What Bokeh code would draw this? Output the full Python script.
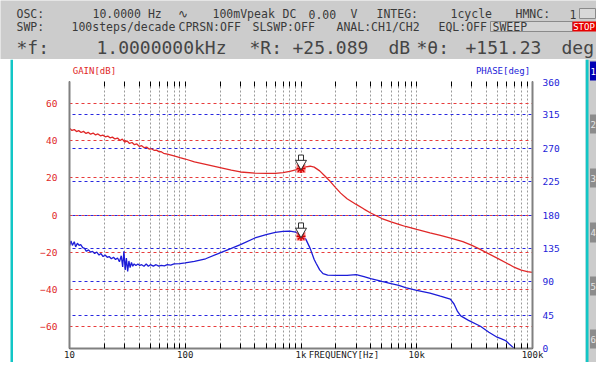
from bokeh.plotting import figure
from bokeh.models import Range1d, LinearAxis, LogAxis, FixedTicker, Grid
from bokeh.layouts import column, row
from bokeh.embed import file_html
from bokeh.resources import INLINE
from bokeh.core.properties import value

# ---------------- data ----------------
freq_gain = [10, 10.5, 11, 11.5, 12, 12.6, 13.2, 13.9, 14.5, 15.2, 16, 16.8, 17.6, 18.5, 19.4,
             20.4, 21.4, 22.4, 23.5, 24.7, 26, 27.3, 28.6, 30, 31.5, 33, 34.7, 36.4, 38.2, 40,
             42, 44.2, 46.4, 48.7, 51, 53.7, 56.4, 59.2, 62, 65, 70, 80, 90, 100, 120, 150,
             200, 250, 300, 400, 500, 600, 700, 800, 900, 1000, 1100, 1200, 1300, 1450, 1600,
             1800, 2000, 2200, 2500, 3000, 3500, 4000, 5000, 6000, 7000, 8000, 10000, 13000,
             16000, 20000, 25000, 30000, 35000, 40000, 50000, 60000, 70000, 80000, 90000, 100000]
gain_db = [46.8, 45.6, 46.1, 45.0, 45.5, 44.5, 45.1, 44.0, 44.6, 43.6, 44.2, 43.2, 43.7, 42.7, 43.1,
           42.2, 42.6, 41.6, 42.0, 41.0, 41.5, 40.2, 40.9, 39.3, 39.9, 38.6, 39.1, 37.9, 38.3, 37.0,
           37.4, 36.3, 36.6, 35.6, 35.7, 34.9, 35.0, 34.2, 34.1, 33.3, 32.8, 31.9, 31.0, 30.2, 28.6, 27.3,
           25.6, 24.2, 23.2, 22.6, 22.4, 22.5, 22.9, 23.5, 24.3, 25.1, 25.9, 26.3, 25.8, 23.8, 21.2,
           17.9, 14.6, 11.8, 8.8, 5.7, 3.2, 1.1, -1.9, -3.7, -5.0, -6.2, -7.8, -9.6,
           -11.0, -12.6, -14.4, -16.4, -18.4, -20.3, -23.4, -26.0, -28.3, -29.7, -30.5, -31.0]

freq_phase = [10, 10.3, 10.6, 11, 11.3, 11.7, 12.1, 12.5, 13, 13.5, 14, 14.6, 15.2, 15.8, 16.5,
              17.2, 18, 18.7, 19.5, 20.3, 21.2, 22, 23, 24, 25, 26, 27, 28, 28.8, 29.5, 30.3, 31,
              31.8, 32.6, 33.4, 34.3, 35.2, 36.2, 37.5, 39, 40.5, 42, 44, 46, 48, 50, 53, 56, 59,
              62, 66, 70, 75, 80, 90, 100, 120, 150, 200, 250, 300, 400, 500, 600, 700, 800, 900,
              1000, 1100, 1200, 1300, 1350, 1450, 1550, 1700, 2000, 2500, 3000, 3500, 4000, 5000,
              6000, 7000, 8000, 10000, 13000, 16000, 19500, 21000, 22500, 24000, 28000, 35500,
              42000, 49500, 54000, 58500, 63000, 69000]
phase_deg = [138, 145, 139, 144, 137, 142, 139, 140, 136, 135, 131, 133, 130, 131, 128,
             130, 126, 128, 124, 126, 123, 124, 121, 123, 120, 122, 117, 125, 110, 131, 106, 122,
             104, 118, 109, 116, 111, 114, 112, 114, 112, 113, 111, 114, 111, 113, 111, 113, 111,
             112, 111.5, 113, 112.5, 114, 114.5, 115.5, 117.5, 121, 129, 135, 140, 149, 153.5, 156.5, 157.8, 158.2, 157,
             151.2, 147.5, 135, 120, 115, 106, 101, 99, 98.5, 98.7, 99.5, 97, 94.3, 90.5,
             87.5, 85, 82, 78.5, 74.6, 70.5, 66.6, 60, 50, 44, 38, 30,
             22, 15.2, 13, 10.7, 6, 0.5]

marker_freq = [1000.0]
marker_gain = [25.089]
marker_phase = [151.23]

gain_ticks = [-60, -40, -20, 0, 20, 40, 60]
phase_ticks = [0, 45, 90, 135, 180, 225, 270, 315, 360]
phase_grid = [45, 90, 135, 180, 225, 270, 315]
freq_major = [10, 100, 1000, 10000, 100000]
freq_labels = ["10", "100", "1k", "10k", "100k"]
freq_minor = [m * 10 ** d for d in range(1, 5) for m in range(2, 10)]
x_title = "FREQUENCY[Hz]"
x_title_at = 2000          # the axis title sits under this decade line
gain_title = "GAIN[dB]"
phase_title = "PHASE[deg]"

header_row1 = ["OSC:", "10.0000 Hz", "\u223f", "100mVpeak", "DC", "0.00", "V", "INTEG:", "1cycle", "HMNC:", "1"]
header_row2 = ["SWP:", "100steps/decade", "CPRSN:OFF", "SLSWP:OFF", "ANAL:CH1/CH2", "EQL:OFF"]
header_row3 = ["*f:", "1.0000000kHz", "*R:", "+25.089", "dB", "*\u03b8:", "+151.23", "deg"]
side_buttons = ["1", "2", "3", "4", "5", "6"]

# ---------------- styling constants ----------------
MONO = "DejaVu Sans Mono"
CYAN = "#12c6c6"
GRAY = "#cccccc"
RED = "#e02828"
BLUE = "#1c1cd8"
TXT = "#3a3a3a"


def blank(w, h, xr, yr, bg):
    f = figure(width=w, height=h, x_range=xr, y_range=yr, output_backend="svg",
               toolbar_location=None, x_axis_location=None, y_axis_location=None,
               min_border=0, min_border_left=0, min_border_right=0, min_border_top=0,
               min_border_bottom=0)
    f.background_fill_color = bg
    f.border_fill_color = bg
    f.outline_line_color = None
    f.grid.visible = False
    return f


# ---------------- header ----------------
hdr = blank(596, 59, Range1d(0, 596), Range1d(59, 0), GRAY)
r1x = [16, 92, 177, 212, 282, 308, 350, 376, 450, 515, 569]
r2x = [16, 71, 178, 252, 336, 438]
r3x = [16, 96, 249, 292, 388, 416, 465, 561]
hdr.quad(left=[579], right=[595], top=[8], bottom=[18], fill_color="#d8d8d8", line_color="#8a8a8a")
hdr.quad(left=[490], right=[572], top=[21], bottom=[31], fill_color="#d4d4d4", line_color="#8a8a8a")
hdr.quad(left=[572], right=[596], top=[21], bottom=[31], fill_color="#e80000", line_color=None)
hdr.text(x=r1x, y=[13.5] * len(r1x), text=header_row1, text_font=value(MONO), text_font_size="11.5px",
         text_color=TXT, text_baseline="middle")
hdr.text(x=r2x, y=[26.5] * len(r2x), text=header_row2, text_font=value(MONO), text_font_size="11.5px",
         text_color=TXT, text_baseline="middle")
hdr.text(x=r3x, y=[46.5] * len(r3x), text=header_row3, text_font=value(MONO), text_font_size="18px",
         text_color="#454545", text_baseline="middle")
hdr.text(x=[492], y=[26.5], text=["SWEEP"], text_font=value(MONO), text_font_size="11.5px",
         text_color=TXT, text_baseline="middle")
hdr.text(x=[583.5], y=[26.5], text=["STOP"], text_font=value(MONO), text_font_size="9px",
         text_color="white", text_baseline="middle", text_align="center")

# ---------------- frame strips ----------------
left = blank(13, 303, Range1d(0, 13), Range1d(362, 59), "white")
left.quad(left=[10], right=[13], top=[59], bottom=[362], fill_color=CYAN, line_color=None)

top = blank(572, 3, Range1d(0, 1), Range1d(0, 1), CYAN)

lab = blank(572, 16, Range1d(13, 585), Range1d(78, 62), "white")
lab.text(x=[17], y=[70.5], text=[gain_title], text_font=value(MONO), text_font_size="9px",
         text_color=RED, text_baseline="middle")
lab.text(x=[582], y=[70.5], text=[phase_title], text_font=value(MONO), text_font_size="9px",
         text_color=BLUE, text_baseline="middle", text_align="right")

side = blank(11, 303, Range1d(585, 596), Range1d(362, 59), GRAY)
side.quad(left=[585], right=[588], top=[59], bottom=[362], fill_color=CYAN, line_color=None)
btn_top = [61, 114, 168, 222, 276, 329]
btn_bot = [80, 133, 187, 242, 295, 348]
side.quad(left=[589.5] * 6, right=[596] * 6, top=btn_top, bottom=btn_bot,
          fill_color=["#0000b4"] + ["#8c8c8c"] * 5, line_color=None)
side.text(x=[592.8] * 6, y=[(a + b) / 2 for a, b in zip(btn_top, btn_bot)], text=side_buttons,
          text_font=value(MONO), text_font_size="9px", text_color=["white"] + ["#e6e6e6"] * 5,
          text_align="center", text_baseline="middle")

# ---------------- main chart ----------------
p = figure(width=572, height=284, x_axis_type="log", x_range=Range1d(10, 1e5),
           y_range=Range1d(-72, 72), output_backend="svg", toolbar_location=None,
           min_border_left=56, min_border_right=53, min_border_top=3, min_border_bottom=12)
p.background_fill_color = "white"
p.border_fill_color = "white"
p.outline_line_color = None
p.extra_y_ranges = {"phase": Range1d(0, 360)}

major = sorted(freq_major + [x_title_at])
minor = [m for m in freq_minor if m != x_title_at]
labels = dict(zip(freq_major, freq_labels))
labels[x_title_at] = "\u00a0\u00a0\u00a0" + x_title   # nudged right, clear of the "1k" label
xticker = FixedTicker(ticks=major, minor_ticks=minor)
xa = p.xaxis[0]
xa.ticker = xticker
xa.major_label_overrides = {float(k): v for k, v in labels.items()}
xa.axis_line_color = "#808080"
xa.axis_line_width = 2
xa.major_tick_in = 5
xa.major_tick_out = 0
xa.minor_tick_in = 5
xa.minor_tick_out = 0
xa.major_tick_line_color = "black"
xa.minor_tick_line_color = "black"
xa.major_label_standoff = 1
xa.major_label_text_font = MONO
xa.major_label_text_font_size = "9px"
xa.major_label_text_color = "#202020"

xt = LogAxis(ticker=xticker, axis_line_color=None, major_tick_in=5, major_tick_out=0,
             minor_tick_in=5, minor_tick_out=0, major_tick_line_color="black",
             minor_tick_line_color="black", major_label_text_font_size="1px",
             major_label_text_color=None, major_label_standoff=0)
p.add_layout(xt, "above")

ya = p.yaxis[0]
ya.ticker = FixedTicker(ticks=gain_ticks)
ya.axis_line_color = "#808080"
ya.axis_line_width = 2
ya.major_tick_line_color = None
ya.minor_tick_line_color = None
ya.major_label_standoff = 6
ya.major_label_text_font = MONO
ya.major_label_text_font_size = "9.5px"
ya.major_label_text_color = RED

yr = LinearAxis(y_range_name="phase", ticker=FixedTicker(ticks=phase_ticks),
                axis_line_color="#808080", axis_line_width=2, major_tick_line_color=None,
                minor_tick_line_color=None, major_label_standoff=4,
                major_label_text_font=MONO, major_label_text_font_size="9.5px",
                major_label_text_color=BLUE)
p.add_layout(yr, "right")

p.xgrid.ticker = xticker
p.xgrid.grid_line_color = "#9a9a9a"
p.xgrid.grid_line_dash = "2 2"
p.xgrid.minor_grid_line_color = "#9a9a9a"
p.xgrid.minor_grid_line_dash = "2 2"
p.ygrid.ticker = FixedTicker(ticks=gain_ticks)
p.ygrid.grid_line_color = "#e83c3c"
p.ygrid.grid_line_width = 1.2
p.ygrid.grid_line_dash = "3 3"
pg = Grid(dimension=1, ticker=FixedTicker(ticks=phase_grid), y_range_name="phase",
          grid_line_color="#2828e0", grid_line_dash="3 3", grid_line_dash_offset=3,
          grid_line_width=1.2)
p.add_layout(pg)

# curves
p.line(freq_gain, gain_db, line_color=RED, line_width=1.3)
p.line(freq_phase, phase_deg, line_color=BLUE, line_width=1.3, y_range_name="phase")

# markers at 1 kHz
px_per_db = 269 / 144.0
px_per_deg = 269 / 360.0
gain_head = [g + 5 / px_per_db for g in marker_gain]
gain_stem = [g + 10.5 / px_per_db for g in marker_gain]
ph_head = [g + 5 / px_per_deg for g in marker_phase]
ph_stem = [g + 10.5 / px_per_deg for g in marker_phase]
for ys, rng in ((marker_gain, "default"), (marker_phase, "phase")):
    p.scatter(marker_freq, ys, marker="square", size=9, fill_color="#ff7070", fill_alpha=0.8,
              line_color=None, y_range_name=rng)
    p.scatter(marker_freq, ys, marker="asterisk", size=9, line_color="#d00000", line_width=1.5,
              y_range_name=rng)
for head, stem, rng in ((gain_head, gain_stem, "default"), (ph_head, ph_stem, "phase")):
    p.rect(marker_freq, stem, width=5, height=6, width_units="screen", height_units="screen",
           fill_color="white", line_color="#303030", y_range_name=rng)
    p.scatter(marker_freq, head, marker="inverted_triangle", size=11, fill_color="white",
              line_color="#303030", y_range_name=rng)

layout = column(hdr, row(left, column(top, lab, p), side))
open("out.html", "w").write(file_html(layout, INLINE))
